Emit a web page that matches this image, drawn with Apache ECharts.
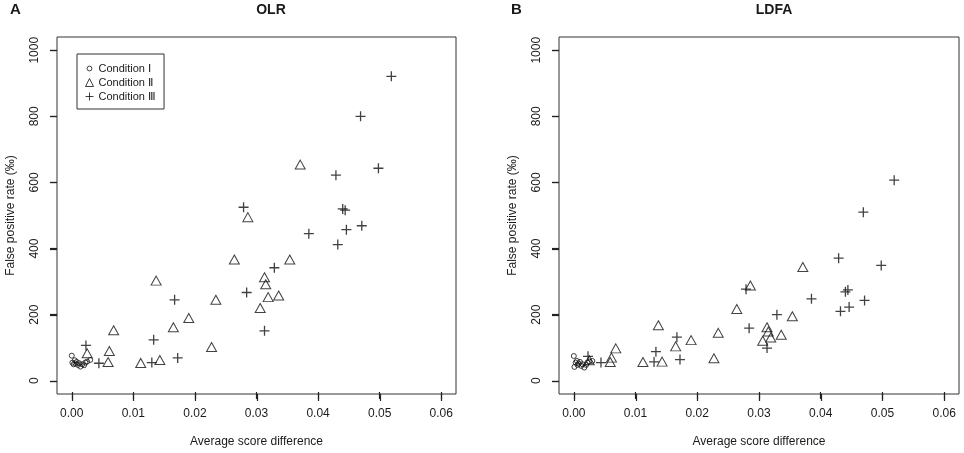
<!DOCTYPE html>
<html>
<head>
<meta charset="utf-8">
<title>OLR / LDFA</title>
<script src="https://cdn.jsdelivr.net/npm/echarts@6/dist/echarts.min.js"></script>
<style>
  html, body { margin: 0; padding: 0; background: #fff; }
  #main { width: 964px; height: 453px; }
</style>
</head>
<body>
<div id="main"></div>
<script>
// 坐标轴刻度
var xTicks = [0, 0.01, 0.02, 0.03, 0.04, 0.05, 0.06];
var yTicks = [0, 200, 400, 600, 800, 1000];

var panelTitles = ['OLR', 'LDFA'];
var panelLetters = ['A', 'B'];
var legendNames = ['Condition Ⅰ', 'Condition Ⅱ', 'Condition Ⅲ'];

// Condition I (circles)
var c1X    = [0.0000, 0.0001, 0.0003, 0.0005, 0.0006, 0.0008, 0.0010, 0.0012, 0.0014, 0.0017, 0.0020, 0.0022, 0.0025, 0.0030];
var c1OLR  = [76, 55, 50, 62, 52, 57, 48, 53, 43, 50, 47, 55, 58, 63];
var c1LDFA = [75, 42, 55, 60, 48, 52, 57, 45, 50, 40, 48, 55, 58, 60];

// Condition II (triangles)
var c2X    = [0.0371, 0.0286, 0.0264, 0.0354, 0.0137, 0.0313, 0.0315, 0.0234, 0.0319, 0.0336,
              0.0306, 0.0190, 0.0165, 0.0068, 0.0227, 0.0061, 0.0025, 0.0059, 0.0112, 0.0143];
var c2OLR  = [654, 495, 367, 367, 303, 313, 292, 245, 253, 258,
              220, 190, 162, 153, 102, 90, 83, 57, 54, 63];
var c2LDFA = [344, 288, 217, 195, 168, 162, 149, 145, 131, 139,
              121, 123, 104, 98, 68, 70, 62, 57, 57, 58];

// Condition III (crosses)
var c3X    = [0.0519, 0.0469, 0.0498, 0.0429, 0.0279, 0.0440, 0.0444, 0.0446, 0.0471, 0.0385,
              0.0432, 0.0329, 0.0284, 0.0167, 0.0313, 0.0133, 0.0172, 0.0130, 0.0044, 0.0023];
var c3OLR  = [921, 800, 643, 622, 525, 520, 516, 457, 469, 445,
              412, 342, 267, 245, 151, 124, 69, 55, 53, 107];
var c3LDFA = [607, 510, 349, 371, 277, 269, 275, 223, 243, 248,
              210, 200, 159, 132, 99, 88, 64, 57, 55, 74];

function zip(xs, ys) {
  var out = [];
  for (var i = 0; i < xs.length; i++) out.push([xs[i], ys[i]]);
  return out;
}

var FONT = 'Liberation Sans';
var INK = '#1a1a1a';
var LINE = '#333';
var TICK_COLOR = '#222';
var TICK = 7;
var crossPath = 'path://M0,5L10,5M5,0L5,10';
// 图例里的小圆圈，四角的 M 用来留白让圆圈变小
var smallCircle = 'path://M0,0M10,10M2,5A3,3,0,1,0,8,5A3,3,0,1,0,2,5Z';

// 数据范围 + R 默认的 4% 扩展
var xMin = 0, xMax = 0.06, yMin = 0, yMax = 1000;
var xPad = (xMax - xMin) * 0.04, yPad = (yMax - yMin) * 0.04;

var boxes = [
  { left: 57, top: 37, width: 399, height: 357 },
  { left: 559, top: 37, width: 400, height: 357 }
];

var grids = [], xAxes = [], yAxes = [], series = [];
var panelData = [
  [zip(c1X, c1OLR), zip(c2X, c2OLR), zip(c3X, c3OLR)],
  [zip(c1X, c1LDFA), zip(c2X, c2LDFA), zip(c3X, c3LDFA)]
];

var hidden = { show: false };
var dataGrid = [];

for (var p = 0; p < 2; p++) {
  var b = boxes[p];
  var dx = b.width * xPad / (xMax - xMin + 2 * xPad);
  var dy = b.height * yPad / (yMax - yMin + 2 * yPad);
  var g0 = grids.length;
  dataGrid.push(g0);

  // 外框 + 数据
  grids.push({ left: b.left, top: b.top, width: b.width, height: b.height,
    show: true, borderColor: LINE, borderWidth: 1, backgroundColor: 'transparent' });
  // x 刻度用的 grid：底边在外框下方 TICK 像素处，刻度朝内
  grids.push({ left: b.left + dx, top: b.top, width: b.width - 2 * dx, height: b.height + TICK });
  // y 刻度用的 grid：左边在外框左侧 TICK 像素处
  grids.push({ left: b.left - TICK, top: b.top + dy, width: b.width + TICK, height: b.height - 2 * dy });

  xAxes.push({ type: 'value', gridIndex: g0, min: xMin - xPad, max: xMax + xPad, show: false });
  yAxes.push({ type: 'value', gridIndex: g0, min: yMin - yPad, max: yMax + yPad, show: false });

  xAxes.push({
    type: 'value', gridIndex: g0 + 1, min: xMin, max: xMax, interval: 0.01,
    splitLine: hidden, axisLine: { show: false },
    axisTick: { show: true, inside: true, length: TICK, lineStyle: { color: TICK_COLOR, width: 1.2 } },
    axisLabel: {
      margin: 9, fontFamily: FONT, fontSize: 12, color: INK, showMinLabel: true, showMaxLabel: true,
      formatter: function (v) { return v.toFixed(2); }
    },
    name: 'Average score difference', nameLocation: 'middle', nameGap: 37,
    nameTextStyle: { fontFamily: FONT, fontSize: 12, color: INK }
  });
  yAxes.push({ type: 'value', gridIndex: g0 + 1, min: 0, max: 1, show: false });

  xAxes.push({ type: 'value', gridIndex: g0 + 2, min: 0, max: 1, show: false });
  yAxes.push({
    type: 'value', gridIndex: g0 + 2, min: yMin, max: yMax, interval: 200,
    splitLine: hidden, axisLine: { show: false },
    axisTick: { show: true, inside: true, length: TICK, lineStyle: { color: TICK_COLOR, width: 1.2 } },
    axisLabel: {
      rotate: 90, margin: 9, fontFamily: FONT, fontSize: 12, color: INK, showMinLabel: true, showMaxLabel: true,
      formatter: function (v) { return String(v); }
    },
    name: 'False positive rate (‰)', nameLocation: 'middle', nameGap: 33, nameRotate: 90,
    nameTextStyle: { fontFamily: FONT, fontSize: 12, color: INK }
  });

  series.push({
    name: legendNames[0], type: 'scatter', xAxisIndex: g0, yAxisIndex: g0,
    symbol: 'circle', symbolSize: 5, data: panelData[p][0],
    itemStyle: { color: 'none', borderColor: '#111', borderWidth: 1 }
  });
  series.push({
    name: legendNames[1], type: 'scatter', xAxisIndex: g0, yAxisIndex: g0,
    symbol: 'triangle', symbolSize: [10, 9], data: panelData[p][1],
    itemStyle: { color: 'none', borderColor: '#111', borderWidth: 1 }
  });
  series.push({
    name: legendNames[2], type: 'scatter', xAxisIndex: g0, yAxisIndex: g0,
    symbol: crossPath, symbolSize: 10, data: panelData[p][2],
    itemStyle: { color: 'none', borderColor: '#111', borderWidth: 1.3 }
  });
}

var titles = [
  { text: panelTitles[0], left: 266, top: -2, textAlign: 'center',
    textStyle: { fontFamily: FONT, fontSize: 14, fontWeight: 'bold', color: INK } },
  { text: panelTitles[1], left: 769, top: -2, textAlign: 'center',
    textStyle: { fontFamily: FONT, fontSize: 14, fontWeight: 'bold', color: INK } },
  { text: panelLetters[0], left: 5, top: -3,
    textStyle: { fontFamily: FONT, fontSize: 15, fontWeight: 'bold', color: INK } },
  { text: panelLetters[1], left: 506, top: -3,
    textStyle: { fontFamily: FONT, fontSize: 15, fontWeight: 'bold', color: INK } }
];

var legendStyle = { color: 'none', borderColor: '#111', borderWidth: 1 };

var chart = echarts.init(document.getElementById('main'), null, { renderer: 'canvas' });
var option = {
  animation: false,
  backgroundColor: '#fff',
  title: titles,
  grid: grids,
  xAxis: xAxes,
  yAxis: yAxes,
  legend: {
    data: [
      { name: legendNames[0], icon: smallCircle, itemStyle: legendStyle },
      { name: legendNames[1], icon: 'triangle', itemStyle: legendStyle },
      { name: legendNames[2], icon: crossPath, itemStyle: legendStyle }
    ],
    orient: 'vertical', left: 77, top: 54,
    borderColor: LINE, borderWidth: 1, padding: [8, 8, 6, 6],
    itemWidth: 8, itemHeight: 8, itemGap: 1,
    selectedMode: false,
    textStyle: { fontFamily: FONT, fontSize: 11, lineHeight: 13, color: INK }
  },
  series: series
};
option && chart.setOption(option);

// 刻度线：位置用数据 grid 的坐标换算出来（兜底，和轴刻度重合）
var tickLines = [];
for (var k = 0; k < dataGrid.length; k++) {
  var gi = dataGrid[k];
  var corner = chart.convertToPixel({ gridIndex: gi }, [xMin - xPad, yMin - yPad]);
  if (!corner) continue;
  xTicks.forEach(function (v) {
    var pt = chart.convertToPixel({ gridIndex: gi }, [v, yMin - yPad]);
    var x = Math.round(pt[0]) + 0.5;
    tickLines.push({ type: 'line', silent: true, z: 100,
      shape: { x1: x, y1: corner[1], x2: x, y2: corner[1] + TICK },
      style: { stroke: TICK_COLOR, lineWidth: 1.2 } });
  });
  yTicks.forEach(function (v) {
    var pt = chart.convertToPixel({ gridIndex: gi }, [xMin - xPad, v]);
    var y = Math.round(pt[1]) + 0.5;
    tickLines.push({ type: 'line', silent: true, z: 100,
      shape: { x1: corner[0] - TICK, y1: y, x2: corner[0], y2: y },
      style: { stroke: TICK_COLOR, lineWidth: 1.2 } });
  });
}
chart.setOption({ graphic: { elements: tickLines } });
</script>
</body>
</html>
